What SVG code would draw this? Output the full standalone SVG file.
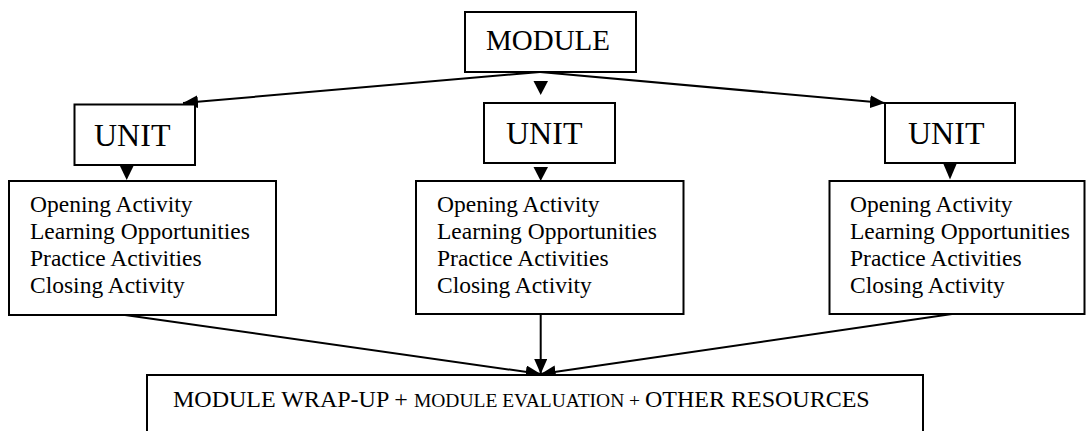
<svg xmlns="http://www.w3.org/2000/svg" width="1086" height="431" viewBox="0 0 1086 431">
<style>
.box{fill:#fff;stroke:#000;stroke-width:2}
.t{font-family:"Liberation Serif","Times New Roman",serif;fill:#000}
.big{font-size:29px}
.unit{font-size:32px}
.act{font-size:23.5px}
.bot{font-size:24px}
.sm{font-size:19.5px}
.ln{stroke:#000;stroke-width:2;fill:none}
.ah{fill:#000}
</style>
<defs>
<marker id="arr" markerUnits="userSpaceOnUse" markerWidth="15" markerHeight="13" refX="15" refY="6.5" orient="auto">
<path d="M0,0 L15,6.5 L0,13 z" fill="#000"/>
</marker>
</defs>
<rect width="1086" height="431" fill="#fff"/>
<g id="connectors">
<line class="ln" x1="540" y1="72" x2="183" y2="103" marker-end="url(#arr)"/>
<line class="ln" x1="540" y1="72" x2="885" y2="103" marker-end="url(#arr)"/>
<polygon class="ah" points="533.5,81 548,81 540.7,95"/>
<polygon class="ah" points="119.5,165 134,165 126.7,180"/>
<polygon class="ah" points="533.5,167 548,167 540.7,181"/>
<polygon class="ah" points="943,163 957,163 950,179.5"/>
<line class="ln" x1="125" y1="315" x2="540.7" y2="374" marker-end="url(#arr)"/>
<line class="ln" x1="540.7" y1="314" x2="540.7" y2="374" marker-end="url(#arr)"/>
<line class="ln" x1="952" y1="314" x2="540.7" y2="374" marker-end="url(#arr)"/>
</g>
<g id="module">
<rect class="box" x="465" y="12" width="171" height="60"/>
<text class="t big" x="486" y="50">MODULE</text>
</g>
<g id="unit-left">
<rect class="box" x="74.5" y="104.5" width="120.5" height="60.5"/>
<text class="t unit" x="94" y="146">UNIT</text>
</g>
<g id="unit-middle">
<rect class="box" x="484" y="103" width="131" height="60"/>
<text class="t unit" x="506" y="144">UNIT</text>
</g>
<g id="unit-right">
<rect class="box" x="885" y="103" width="130" height="60"/>
<text class="t unit" x="908" y="144">UNIT</text>
</g>
<g id="activities-left">
<rect class="box" x="9" y="181" width="267" height="134"/>
<text class="t act" x="30" y="212">Opening Activity</text>
<text class="t act" x="30" y="239">Learning Opportunities</text>
<text class="t act" x="30" y="266">Practice Activities</text>
<text class="t act" x="30" y="293">Closing Activity</text>
</g>
<g id="activities-middle">
<rect class="box" x="416" y="181" width="267.5" height="133"/>
<text class="t act" x="437" y="212">Opening Activity</text>
<text class="t act" x="437" y="239">Learning Opportunities</text>
<text class="t act" x="437" y="266">Practice Activities</text>
<text class="t act" x="437" y="293">Closing Activity</text>
</g>
<g id="activities-right">
<rect class="box" x="829.5" y="181" width="255" height="133"/>
<text class="t act" x="850" y="212">Opening Activity</text>
<text class="t act" x="850" y="239">Learning Opportunities</text>
<text class="t act" x="850" y="266">Practice Activities</text>
<text class="t act" x="850" y="293">Closing Activity</text>
</g>
<g id="wrapup">
<rect class="box" x="147" y="375" width="776" height="70"/>
<text class="t bot" x="173" y="407">MODULE WRAP-UP + <tspan class="sm">MODULE EVALUATION + </tspan>OTHER RESOURCES</text>
</g>
</svg>
